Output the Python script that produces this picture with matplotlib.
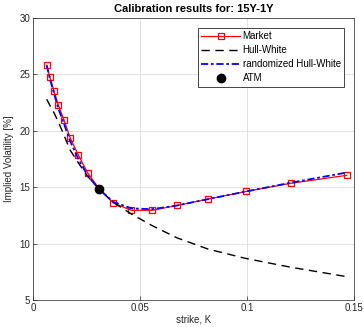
import matplotlib
matplotlib.use('Agg')
import matplotlib.pyplot as plt
import numpy as np

dbl_width  = 364.0
dbl_height = 327.0
dbl_dpi    = 100.0

# market quotes
k_market   = [0.0064, 0.0079, 0.0098, 0.0118, 0.0145, 0.0173, 0.0212, 0.0256, 0.031,
              0.0375, 0.046, 0.0556, 0.0674, 0.082, 0.0995, 0.1206, 0.1466]
vol_market = [25.8, 24.75, 23.55, 22.3, 20.95, 19.4, 17.85, 16.25, 14.85,
              13.6, 12.95, 12.95, 13.38, 13.95, 14.62, 15.35, 16.05]

# Hull-White model
k_hw   = [0.0064, 0.0079, 0.0098, 0.0118, 0.0145, 0.0173, 0.0212, 0.0256, 0.031,
          0.0375, 0.046, 0.0556, 0.0674, 0.082, 0.0995, 0.1206, 0.1466]
vol_hw = [22.8, 22.25, 21.6, 20.8, 19.6, 18.3, 17.15, 15.95, 14.8,
          13.65, 12.62, 11.6, 10.5, 9.5, 8.68, 7.9, 7.07]

# randomized Hull-White model
k_rhw   = [0.0064, 0.0079, 0.0098, 0.0118, 0.0145, 0.0173, 0.0212, 0.0256, 0.031,
           0.0375, 0.046, 0.0556, 0.0674, 0.082, 0.0995, 0.1206, 0.1466]
vol_rhw = [25.8, 24.6, 23.3, 22.0, 20.6, 19.1, 17.5, 16.0, 14.8,
           13.7, 13.12, 13.05, 13.38, 13.95, 14.62, 15.4, 16.3]

k_atm   = [0.031]
vol_atm = [14.85]

fig = plt.figure(figsize=(dbl_width / dbl_dpi, dbl_height / dbl_dpi), dpi=dbl_dpi)
ax = fig.add_axes([0.0907, 0.0826, 0.8818, 0.8624])

font = {'family': 'Liberation Sans', 'size': 7}

ax.plot(k_market, vol_market, '-s', color='red', lw=0.9, ms=4.5,
        mfc='none', mew=0.9, label='Market')
ax.plot(k_hw, vol_hw, '--', color='black', lw=1.0, dashes=(6, 4), label='Hull-White')
ax.plot(k_rhw, vol_rhw, '-.', color='blue', lw=1.3, dashes=(4, 1.5, 1.5, 1.5),
        label='randomized Hull-White')
ax.plot(k_atm, vol_atm, 'o', color='black', ms=6, ls='none', label='ATM')

ax.set_xlim(0, 0.15)
ax.set_ylim(5, 30)
ax.set_xticks([0, 0.05, 0.1, 0.15])
ax.set_xticklabels(['0', '0.05', '0.1', '0.15'])
ax.set_yticks([5, 10, 15, 20, 25, 30])
ax.grid(color='#dcdcdc', lw=0.6)
ax.set_axisbelow(True)
ax.tick_params(direction='in', length=3, width=0.5, colors='#262626',
               labelsize=7, pad=2)
for lbl in ax.get_xticklabels() + ax.get_yticklabels():
    lbl.set_family('Liberation Sans')
for s in ax.spines.values():
    s.set_color('#262626')
    s.set_linewidth(0.5)

ax.set_xlabel('strike, K', fontdict=font, color='#262626', labelpad=1)
ax.set_ylabel('Implied Volatility [%]', fontdict=font, color='#262626', labelpad=4)
ax.set_title('Calibration results for: 15Y-1Y', family='Liberation Sans',
             fontsize=8, fontweight='bold', pad=4)

leg = ax.legend(loc='upper right', prop={'family': 'Liberation Sans', 'size': 7},
                fancybox=False, framealpha=1, edgecolor='#262626',
                borderpad=0.35, labelspacing=0.42, handlelength=4.0,
                handletextpad=0.25, borderaxespad=1.0)
leg.get_frame().set_linewidth(0.6)

fig.savefig('out.png', dpi=dbl_dpi)
